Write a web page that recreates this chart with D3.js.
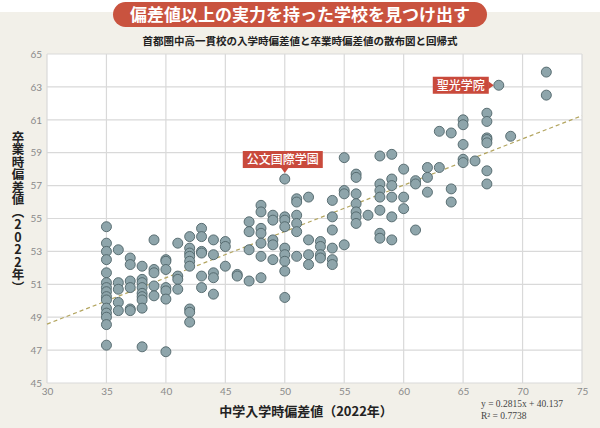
<!DOCTYPE html>
<html>
<head>
<meta charset="utf-8">
<script src="https://cdn.jsdelivr.net/npm/d3@7"></script>
<style>
  html, body { margin: 0; padding: 0; background: #f2f0e9; }
  svg { display: block; }
</style>
</head>
<body>
<svg id="chart" width="600" height="428"></svg>
<script>
// ---- data ----
const titleText = "偏差値以上の実力を持った学校を見つけ出す";
const subtitleText = "首都圏中高一貫校の入学時偏差値と卒業時偏差値の散布図と回帰式";
const xAxisTitle = "中学入学時偏差値（2022年）";
const yAxisTitle = "卒業時偏差値（2022年）";

const xTicks = [30, 35, 40, 45, 50, 55, 60, 65, 70, 75];
const yTicks = [45, 47, 49, 51, 53, 55, 57, 59, 61, 63, 65];

// entrance deviation value of each column of schools
const entryLevels = [35, 36, 37, 38, 39, 40, 41, 42, 43, 44, 45, 46, 47, 48, 49, 50,
                     51, 52, 53, 54, 55, 56, 57, 58, 59, 60, 61, 62, 63, 64, 65, 66,
                     67, 68, 69, 72];
// graduation deviation values of the schools at each entrance level
const gradScores = [
  [54.5, 53.5, 53.0, 52.5, 51.7, 51.1, 50.8, 50.55, 50.25, 50.05, 49.55, 49.25, 49.0, 48.55, 47.3],
  [53.1, 51.1, 50.7, 49.9, 49.4],
  [52.6, 52.2, 51.2, 50.8, 49.5, 49.4],
  [52.1, 51.3, 51.1, 50.8, 50.45, 50.25, 50.05, 49.55, 47.2],
  [53.7, 51.9, 51.7, 50.9, 50.3],
  [52.5, 52.4, 51.9, 50.8, 50.6, 50.1, 46.9],
  [53.5, 51.5, 51.3, 50.7],
  [53.9, 53.2, 52.9, 52.7, 52.4, 52.1, 49.5, 49.3, 48.7],
  [54.4, 53.9, 53.0, 52.9, 51.5, 50.8],
  [53.7, 52.8, 51.7, 51.4, 50.4],
  [53.6, 53.3, 52.1],
  [51.6, 51.5],
  [54.8, 54.2, 53.1, 51.2],
  [55.8, 55.4, 54.4, 54.1, 53.5, 52.7, 51.4],
  [55.2, 54.9, 53.7, 53.4, 52.5],
  [57.4, 55.1, 54.9, 54.5, 53.2, 52.8, 52.4, 51.8, 50.2],
  [56.2, 56.0, 55.2, 54.7, 54.2, 52.7],
  [56.3, 53.7, 52.8, 52.2],
  [53.6, 53.3, 52.8, 52.6],
  [56.1, 55.1, 54.3, 53.2, 52.5, 52.2],
  [58.7, 56.7, 56.5, 53.4],
  [57.7, 57.5, 56.5, 55.9, 55.4, 55.1, 54.7],
  [55.2],
  [58.8, 57.1, 56.7, 56.3, 55.5, 54.1, 53.8],
  [58.9, 57.4, 57.0, 56.3, 55.1, 53.7],
  [58.0, 56.3, 55.6],
  [57.3, 57.1, 54.3],
  [58.1, 57.5, 56.6],
  [60.3, 58.1],
  [60.2, 56.8, 56.0],
  [61.0, 60.7, 59.5, 58.6, 58.4],
  [58.5],
  [61.4, 60.9, 59.9, 59.8, 59.6, 57.9, 57.1],
  [63.1],
  [60.0],
  [63.9, 62.5]
];

const regSlope = 0.2815;
const regIntercept = 40.137;
const regR2 = 0.7738;

const calloutNames = ["公文国際学園", "聖光学院"];
const calloutEntry = [50, 68];
const calloutGrad = [57.4, 63.1];
const calloutSide = ["top", "left"];

// ---- drawing ----
const svg = d3.select("#chart");
const W = 600, H = 428;
const plot = { left: 47, right: 582, top: 54, bottom: 383 };

const x = d3.scaleLinear().domain([30, 75]).range([plot.left, plot.right]);
const y = d3.scaleLinear().domain([45, 65]).range([plot.bottom, plot.top]);

const JP = "'Noto Sans CJK JP', 'Noto Sans', sans-serif";

// backgrounds
svg.append("rect").attr("width", W).attr("height", H).attr("fill", "#f2f0e9");
svg.append("rect").attr("width", W).attr("height", 12).attr("fill", "#ffffff");

// title pill
const pill = svg.append("g");
pill.append("rect")
  .attr("x", 113).attr("y", 2).attr("width", 374).attr("height", 25)
  .attr("rx", 12.5).attr("fill", "#c9533f");
pill.append("text")
  .attr("x", 300).attr("y", 15).attr("dy", "0.36em")
  .attr("text-anchor", "middle")
  .attr("font-family", JP).attr("font-weight", 700).attr("font-size", 17)
  .attr("fill", "#ffffff")
  .text(titleText);

// subtitle
svg.append("text")
  .attr("x", 300).attr("y", 41).attr("dy", "0.36em")
  .attr("text-anchor", "middle")
  .attr("font-family", JP).attr("font-weight", 700).attr("font-size", 10.5)
  .attr("fill", "#222")
  .text(subtitleText);

// plot area
svg.append("rect")
  .attr("x", plot.left).attr("y", plot.top)
  .attr("width", plot.right - plot.left).attr("height", plot.bottom - plot.top)
  .attr("fill", "#ffffff");

// grid
const grid = svg.append("g").attr("stroke", "#d9d9d9").attr("stroke-width", 1.2);
grid.selectAll("line.v").data(xTicks).join("line")
  .attr("x1", d => x(d)).attr("x2", d => x(d))
  .attr("y1", plot.top).attr("y2", plot.bottom);
grid.selectAll("line.h").data(yTicks).join("line")
  .attr("x1", plot.left).attr("x2", plot.right)
  .attr("y1", d => y(d)).attr("y2", d => y(d));

// axes (labels only)
const xAxis = svg.append("g")
  .attr("transform", `translate(0,${plot.bottom})`)
  .call(d3.axisBottom(x).tickValues(xTicks).tickSize(0).tickPadding(5));
const yAxis = svg.append("g")
  .attr("transform", `translate(${plot.left},0)`)
  .call(d3.axisLeft(y).tickValues(yTicks).tickSize(0).tickPadding(5));
[xAxis, yAxis].forEach(a => {
  a.select(".domain").remove();
  a.selectAll("text")
    .attr("fill", "#8a8a8a")
    .attr("font-family", "Lato, 'Open Sans', sans-serif")
    .attr("font-size", 10);
});

// regression line
svg.append("line")
  .attr("x1", x(30)).attr("y1", y(regIntercept + regSlope * 30))
  .attr("x2", x(75)).attr("y2", y(regIntercept + regSlope * 75))
  .attr("stroke", "#b3a55f").attr("stroke-width", 1.2)
  .attr("stroke-dasharray", "4,3");

// points
const points = [];
entryLevels.forEach((e, i) => gradScores[i].forEach(g => points.push({ e, g })));
svg.append("g").selectAll("circle").data(points).join("circle")
  .attr("cx", d => x(d.e)).attr("cy", d => y(d.g)).attr("r", 5)
  .attr("fill", "#8ea5ab").attr("stroke", "#4f6469").attr("stroke-width", 0.9);

// callouts
calloutNames.forEach((name, i) => {
  const px = x(calloutEntry[i]), py = y(calloutGrad[i]);
  const g = svg.append("g");
  const fs = 12;
  const t = g.append("text")
    .attr("font-family", JP).attr("font-size", fs).attr("font-weight", 500)
    .attr("fill", "#ffffff").attr("text-anchor", "middle").attr("dy", "0.36em")
    .text(name);
  const tw = name.length * fs;
  const bw = tw + 8, bh = 17;
  let bx, by;
  if (calloutSide[i] === "top") {
    bx = px - 2 - bw / 2; by = py - 11 - bh;
    g.append("path")
      .attr("d", `M${px - 4},${by + bh - 0.5} L${px + 4},${by + bh - 0.5} L${px},${by + bh + 5} Z`)
      .attr("fill", "#c94a3c");
  } else {
    bx = px - 10 - bw; by = py - bh / 2;
    g.append("path")
      .attr("d", `M${bx + bw - 0.5},${py - 4} L${bx + bw - 0.5},${py + 4} L${bx + bw + 5},${py} Z`)
      .attr("fill", "#c94a3c");
  }
  g.insert("rect", "text")
    .attr("x", bx).attr("y", by).attr("width", bw).attr("height", bh)
    .attr("fill", "#c94a3c");
  t.attr("x", bx + bw / 2).attr("y", by + bh / 2);
});

// axis titles
svg.append("text")
  .attr("x", 306).attr("y", 411).attr("dy", "0.36em")
  .attr("text-anchor", "middle")
  .attr("font-family", JP).attr("font-weight", 700).attr("font-size", 13)
  .attr("fill", "#222")
  .text(xAxisTitle);

svg.append("text")
  .attr("x", 18).attr("y", 212)
  .attr("text-anchor", "middle")
  .attr("style", "writing-mode: vertical-rl; text-orientation: upright;")
  .attr("font-family", JP).attr("font-weight", 700).attr("font-size", 12.5)
  .attr("fill", "#222")
  .text(yAxisTitle);

// regression formula
const fml = svg.append("g")
  .attr("font-family", "'Liberation Serif', 'DejaVu Serif', serif")
  .attr("font-size", 9.5).attr("fill", "#444");
fml.append("text").attr("x", 481).attr("y", 407)
  .text(`y = ${regSlope}x + ${regIntercept}`);
fml.append("text").attr("x", 481).attr("y", 419)
  .text(`R² = ${regR2}`);
</script>
</body>
</html>
